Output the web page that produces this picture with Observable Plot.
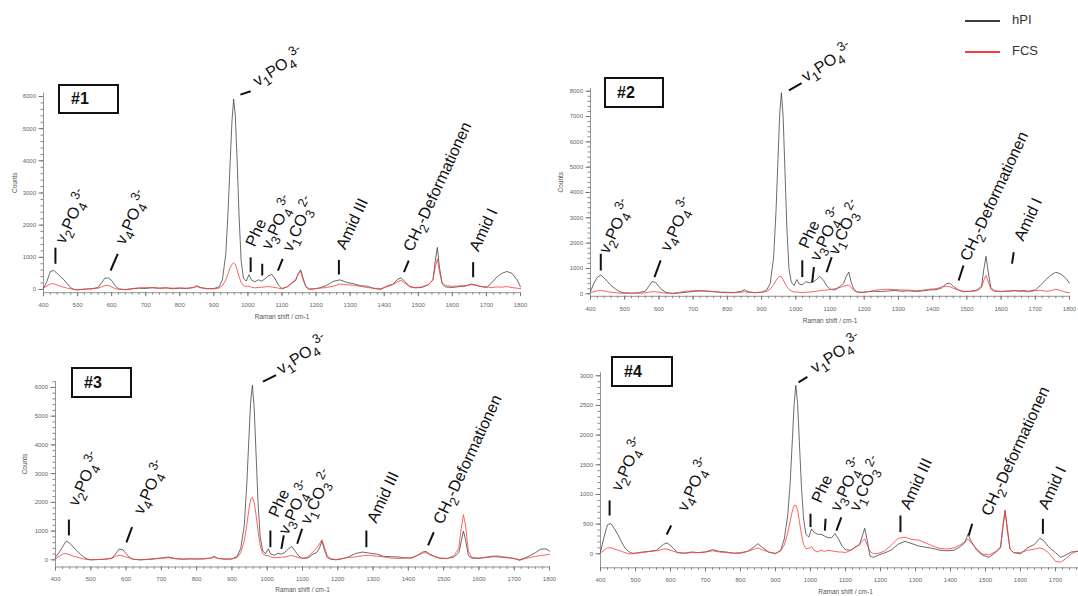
<!DOCTYPE html>
<html><head><meta charset="utf-8">
<script src="https://cdn.jsdelivr.net/npm/d3@7"></script>
<script src="https://cdn.jsdelivr.net/npm/@observablehq/plot@0.6"></script>
<style>
body{margin:0;width:1078px;height:596px;overflow:hidden;background:#fff;font-family:"Liberation Sans",Arial,sans-serif;}
#wrap{position:relative;width:1078px;height:596px;overflow:hidden;}
.panel{position:absolute;}
.panel svg{overflow:visible;}
.box{position:absolute;border:2px solid #111;box-sizing:border-box;background:#fff;font-weight:bold;font-size:16px;color:#111;padding-left:11px;display:flex;align-items:center;}
.leg{position:absolute;font-size:13px;color:#333;}
.legline{position:absolute;width:35px;height:1.5px;}
</style></head>
<body><div id="wrap"></div>
<script>
// ---------- data ----------
const wavenumbers = [400,410,420,430,440,450,460,470,480,490,500,520,540,560,570,580,590,600,610,620,640,660,680,700,720,740,760,780,800,820,840,850,860,880,900,915,925,935,942,948,953,958,963,968,974,980,987,995,1003,1010,1020,1030,1040,1050,1060,1070,1080,1090,1100,1115,1130,1140,1148,1155,1162,1170,1180,1195,1210,1230,1250,1270,1290,1310,1330,1350,1370,1390,1410,1425,1440,1450,1460,1475,1490,1510,1530,1543,1550,1556,1562,1570,1580,1600,1620,1640,1655,1665,1680,1700,1715,1730,1745,1760,1775,1790,1800];

const p1Hpi = [30,250,560,590,500,400,300,180,50,0,-10,10,20,60,200,350,360,280,120,20,-10,20,40,30,60,40,50,20,40,30,60,120,60,20,30,80,300,1100,2500,4000,5200,5920,5400,4100,2300,900,350,260,460,300,240,300,260,330,420,470,330,130,30,80,200,280,500,610,350,80,0,20,50,120,250,300,220,180,120,100,30,0,120,160,320,360,250,100,50,60,150,300,900,1310,700,180,80,60,90,110,170,150,100,60,200,380,500,560,500,300,80];
const p1Fcs = [50,110,170,180,140,100,70,40,20,0,-10,10,20,40,80,120,130,80,30,10,0,30,50,60,50,40,50,40,50,40,60,90,60,30,20,40,120,300,500,680,780,820,780,620,400,220,120,90,110,70,50,60,70,80,90,80,60,40,20,80,220,300,480,560,300,90,20,20,40,60,100,170,150,130,100,60,40,30,90,150,250,280,200,80,60,80,150,300,700,950,550,200,120,100,110,120,150,140,100,80,60,80,70,90,60,40,30];

const p2Hpi = [90,420,650,740,620,480,330,220,120,60,40,20,40,100,290,480,450,290,140,60,10,30,60,90,110,100,80,60,60,50,90,160,80,40,60,150,400,1400,3200,5300,7100,7940,7000,5000,2600,1000,450,330,560,380,360,480,430,460,560,680,560,320,180,150,300,420,700,860,450,160,70,60,80,100,90,110,130,100,120,90,110,150,160,220,400,420,300,150,80,100,150,300,1000,1480,900,250,120,90,100,120,110,130,100,150,330,550,730,850,780,600,420];
const p2Fcs = [40,80,120,130,110,80,60,50,30,20,20,30,20,40,60,80,80,60,40,20,20,60,100,120,130,110,90,60,40,40,60,80,60,50,60,90,180,350,520,640,690,680,560,420,280,170,110,70,70,60,50,60,70,80,100,120,140,150,160,200,250,300,330,340,250,130,60,50,80,130,170,180,160,150,140,120,140,180,200,260,300,280,220,150,100,90,120,250,550,720,500,180,100,90,110,120,100,90,80,120,140,100,120,180,120,60,40];

const p3Hpi = [90,250,450,650,580,450,320,200,100,30,0,10,20,60,200,370,360,220,80,20,0,10,30,60,100,40,20,30,30,30,60,120,50,20,30,120,400,1200,2600,4200,5500,6080,5300,3800,2000,800,320,210,380,200,160,230,200,260,380,460,290,120,60,60,200,250,400,650,350,80,20,0,30,100,220,270,230,200,120,110,100,70,60,150,270,290,200,120,60,50,100,250,650,1000,700,150,60,50,80,110,100,90,70,50,0,60,150,250,370,380,300];
const p3Fcs = [40,120,200,220,180,130,100,60,30,10,0,10,20,50,120,160,140,100,60,20,0,20,40,60,70,40,30,40,30,40,60,90,50,30,30,80,250,650,1200,1750,2100,2180,2000,1600,1000,500,220,150,150,100,70,80,90,100,130,150,110,70,50,100,280,400,550,700,450,150,40,10,40,80,100,140,150,130,100,60,50,60,80,150,230,250,180,100,50,40,150,400,1100,1570,1200,300,80,60,90,130,140,110,90,40,-20,40,80,120,150,170,200];

const p4Hpi = [30,280,490,510,420,320,200,100,40,10,10,30,40,60,110,160,185,140,80,20,10,30,20,30,70,40,30,10,10,40,120,170,120,30,0,60,250,650,1200,1900,2500,2840,2550,1900,1150,600,330,280,420,360,330,330,300,270,270,340,250,130,70,60,120,150,300,430,230,-40,-60,-20,10,60,160,210,170,130,110,90,60,50,60,110,180,330,200,60,-20,-60,30,100,450,730,450,80,20,0,100,160,260,230,120,20,-60,-20,30,40,60,40,60];
const p4Fcs = [10,60,100,100,80,60,40,20,0,0,10,20,40,50,60,80,80,60,40,20,10,20,20,30,50,30,20,10,20,40,80,100,70,30,10,50,150,350,550,720,810,820,740,560,330,160,90,90,120,60,30,60,40,60,50,40,30,30,20,60,120,160,220,250,150,40,0,10,40,140,260,280,240,230,180,130,90,80,100,140,200,250,180,80,0,-20,40,120,500,730,400,80,20,20,60,80,100,80,20,-130,-140,-80,0,40,60,80,80];

const xTicks = [400,500,600,700,800,900,1000,1100,1200,1300,1400,1500,1600,1700,1800];
const yTicks1 = [0,1000,2000,3000,4000,5000,6000];
const yTicks2 = [0,1000,2000,3000,4000,5000,6000,7000,8000];
const yTicks3 = [0,1000,2000,3000,4000,5000,6000];
const yTicks4 = [0,500,1000,1500,2000,2500,3000];

const bandLabels = ["v₂PO₄³⁻","v₄PO₄³⁻","Phe","v₃PO₄³⁻","v₁CO₃²⁻","Amid III","CH₂-Deformationen","Amid I"];
const mainLabel = "v₁PO₄³⁻";
const panelNames = ["#1","#2","#3","#4"];
const seriesNames = ["hPI","FCS"];

// annotation anchors in data units [wavenumber, counts]; null = label absent
const p1Text = [[462,1400],[638,1370],[1020,1300],[1066,1210],[1128,1150],[1286,1210],[1483,1150],[1677,1150]];
const p1Marks = [[435,800,435,1300],[597,590,618,1110],[1008,540,1008,1000],[1042,435,1042,800],[1088,590,1102,955],[1267,465,1267,920],[1458,540,1472,900],[1661,380,1661,850]];
const p1Main = [[1028,6300]];
const p1MainMark = [[978,6060,1008,6165]];

const p2Text = [[452,1550],[631,1640],[1036,1750],[1068,1250],[1122,1500],null,[1507,1250],[1665,2040]];
const p2Marks = [[430,920,430,1580],[587,660,605,1320],[1019,660,1019,1320],[1048,460,1053,1050],[1090,850,1105,1450],null,[1476,525,1490,1117],[1632,1190,1637,1640]];
const p2Main = [[1030,8350]];
const p2MainMark = [[980,8030,1017,8320]];

const p3Text = [[462,1840],[647,1550],[1030,1450],[1058,850],[1120,1200],[1309,1250],[1497,1200],null];
const p3Marks = [[438,850,438,1400],[601,610,617,1140],[1009,440,1009,1020],[1040,380,1047,850],[1085,560,1099,1080],[1281,440,1281,1020],[1456,500,1472,960],null];
const p3Main = [[1040,6450]];
const p3MainMark = [[988,6200,1025,6430]];

const p4Text = [[457,1040],[646,700],[1029,840],[1083,700],[1137,700],[1283,730],[1514,620],[1677,730]];
const p4Marks = [[426,645,426,900],[589,325,602,477],[1000,450,1000,675],[1041,390,1043,590],[1074,390,1088,615],[1257,365,1257,645],[1452,310,1462,505],[1664,337,1664,590]];
const p4Main = [[1013,3040]];
const p4MainMark = [[966,2890,991,2980]];

// ---------- layout ----------
const colors = {hPI: "#3c3c3c", FCS: "#ff3c3c"};
const FONT = "Liberation Sans, Arial, sans-serif";
const LABEL_SIZE = 16;
const SCRIPT_SCALE = 0.8;

const panels = [
  {name: panelNames[0], hpi: p1Hpi, fcs: p1Fcs, yTicks: yTicks1, yMinorStep: 200, text: p1Text, marks: p1Marks, main: p1Main, mainMark: p1MainMark,
   left: 0, top: 30, width: 540, height: 300, mL: 43, mR: 20, mT: 62.8, mB: 37.8, xDom: [400,1800], yDom: [-100,6100], countsDx: -29, ramanDy: 26, box: [58,84,61,30]},
  {name: panelNames[1], hpi: p2Hpi, fcs: p2Fcs, yTicks: yTicks2, yMinorStep: 200, text: p2Text, marks: p2Marks, main: p2Main, mainMark: p2MainMark,
   left: 540, top: 30, width: 538, height: 300, mL: 50, mR: 9, mT: 58.2, mB: 34.2, xDom: [400,1800], yDom: [-100,8100], countsDx: -30, ramanDy: 27, box: [604,77,60,31]},
  {name: panelNames[2], hpi: p3Hpi, fcs: p3Fcs, yTicks: yTicks3, yMinorStep: 200, text: p3Text, marks: p3Marks, main: p3Main, mainMark: p3MainMark,
   left: 0, top: 330, width: 560, height: 266, mL: 55, mR: 11, mT: 51.2, mB: 29.5, xDom: [400,1800], yDom: [-250,6200], countsDx: -31, ramanDy: 25, box: [71,367,61,31]},
  {name: panelNames[3], hpi: p4Hpi, fcs: p4Fcs, yTicks: yTicks4, yMinorStep: 100, text: p4Text, marks: p4Marks, main: p4Main, mainMark: p4MainMark,
   left: 560, top: 330, width: 518, height: 266, mL: 40, mR: 0, mT: 42.3, mB: 28.7, xDom: [400,1765.7], yDom: [-236,3050], countsDx: null, ramanDy: 26, box: [611,356,62,31]}
];

const wrap = document.getElementById("wrap");
const SUB = "₀₁₂₃₄₅₆₇₈₉", SUP = "⁰¹²³⁴⁵⁶⁷⁸⁹";

// turn unicode sub/superscripts into real <tspan> sub/superscripts
function richify(svg) {
  svg.querySelectorAll("text").forEach(t => {
    const s = t.textContent;
    if (!/[₀-₉⁰-⁹⁻]/.test(s)) return;
    const shift = {n: 0, sub: 0.3 * LABEL_SIZE, sup: -0.42 * LABEL_SIZE};
    const groups = [];
    for (const ch of s) {
      let mode = "n", c = ch;
      if (SUB.includes(ch)) { mode = "sub"; c = String(SUB.indexOf(ch)); }
      else if (SUP.includes(ch)) { mode = "sup"; c = String(SUP.indexOf(ch)); }
      else if (ch === "⁻") { mode = "sup"; c = "-"; }
      if (groups.length && groups[groups.length - 1].mode === mode) groups[groups.length - 1].s += c;
      else groups.push({mode, s: c});
    }
    while (t.firstChild) t.removeChild(t.firstChild);
    let cur = 0;
    groups.forEach(g => {
      const ts = document.createElementNS("http://www.w3.org/2000/svg", "tspan");
      const off = shift[g.mode];
      if (off - cur !== 0) ts.setAttribute("dy", (off - cur).toFixed(2));
      cur = off;
      if (g.mode !== "n") ts.setAttribute("font-size", (LABEL_SIZE * SCRIPT_SCALE).toFixed(1));
      ts.textContent = g.s;
      t.appendChild(ts);
    });
  });
}

function makePanel(p) {
  const xMinor = d3.range(400, 1801, 20).filter(v => v <= p.xDom[1]);
  const xMajor = xTicks.filter(v => v <= p.xDom[1]);
  const yMinor = d3.range(0, p.yDom[1] + 1, p.yMinorStep);
  const notes = bandLabels.map((label, i) => p.text[i] ? {label, x: p.text[i][0], y: p.text[i][1]} : null).filter(d => d);
  const marks = p.marks.filter(d => d);
  const marksList = [
    Plot.ruleX([400], {stroke: "#777", strokeWidth: 0.8}),
    Plot.ruleY([p.yDom[0]], {stroke: "#777", strokeWidth: 0.8}),
    Plot.axisY({ticks: yMinor, tickSize: 2.5, text: null, stroke: "#888", label: null}),
    Plot.axisY({ticks: p.yTicks, tickSize: 4.5, tickPadding: 3, fontSize: 6, fill: "#666", stroke: "#777", tickFormat: d => String(d), label: null}),
    Plot.axisX({ticks: xMinor, tickSize: 2.5, text: null, stroke: "#888", label: null}),
    Plot.axisX({ticks: xMajor, tickSize: 4, tickPadding: 6, fontSize: 6, fill: "#666", stroke: "#777", tickFormat: d => String(d), label: null}),
    Plot.line(p.hpi, {x: wavenumbers, y: p.hpi, stroke: colors.hPI, strokeWidth: 0.9, strokeOpacity: 0.85}),
    Plot.line(p.fcs, {x: wavenumbers, y: p.fcs, stroke: colors.FCS, strokeWidth: 0.9, strokeOpacity: 0.9}),
    Plot.link(marks, {x1: d => d[0], y1: d => d[1], x2: d => d[2], y2: d => d[3], stroke: "#111", strokeWidth: 2}),
    Plot.link(p.mainMark, {x1: d => d[0], y1: d => d[1], x2: d => d[2], y2: d => d[3], stroke: "#111", strokeWidth: 2}),
    Plot.text(notes, {x: "x", y: "y", text: "label", rotate: -65, textAnchor: "start", lineAnchor: "bottom", fontSize: LABEL_SIZE, fill: "#111", fontFamily: FONT}),
    Plot.text(p.main, {x: d => d[0], y: d => d[1], text: () => mainLabel, rotate: -33, textAnchor: "start", lineAnchor: "bottom", fontSize: LABEL_SIZE, fill: "#111", fontFamily: FONT}),
    Plot.text(["Raman shift / cm-1"], {x: () => 1100, frameAnchor: "bottom", dy: p.ramanDy, fontSize: 6.5, fill: "#555", fontFamily: FONT})
  ];
  if (p.countsDx !== null) {
    marksList.push(Plot.text(["Counts"], {frameAnchor: "left", dx: p.countsDx, rotate: -90, fontSize: 6.5, fill: "#555", fontFamily: FONT}));
  }
  const svg = Plot.plot({
    width: p.width, height: p.height,
    marginLeft: p.mL, marginRight: p.mR, marginTop: p.mT, marginBottom: p.mB,
    x: {domain: p.xDom, axis: null},
    y: {domain: p.yDom, axis: null},
    style: {fontFamily: FONT, background: "transparent", overflow: "visible"},
    marks: marksList
  });
  richify(svg);
  const div = document.createElement("div");
  div.className = "panel";
  div.style.left = p.left + "px";
  div.style.top = p.top + "px";
  div.appendChild(svg);
  wrap.appendChild(div);

  const box = document.createElement("div");
  box.className = "box";
  box.style.left = p.box[0] + "px";
  box.style.top = p.box[1] + "px";
  box.style.width = p.box[2] + "px";
  box.style.height = p.box[3] + "px";
  box.textContent = p.name;
  wrap.appendChild(box);
}

panels.forEach(makePanel);

// legend
const legendRows = [{name: seriesNames[0], top: 20}, {name: seriesNames[1], top: 51}];
legendRows.forEach(r => {
  const line = document.createElement("div");
  line.className = "legline";
  line.style.left = "965px";
  line.style.top = r.top + "px";
  line.style.background = colors[r.name];
  wrap.appendChild(line);
  const t = document.createElement("div");
  t.className = "leg";
  t.style.left = "1012px";
  t.style.top = (r.top - 8) + "px";
  t.textContent = r.name;
  wrap.appendChild(t);
});
</script>
</body></html>
